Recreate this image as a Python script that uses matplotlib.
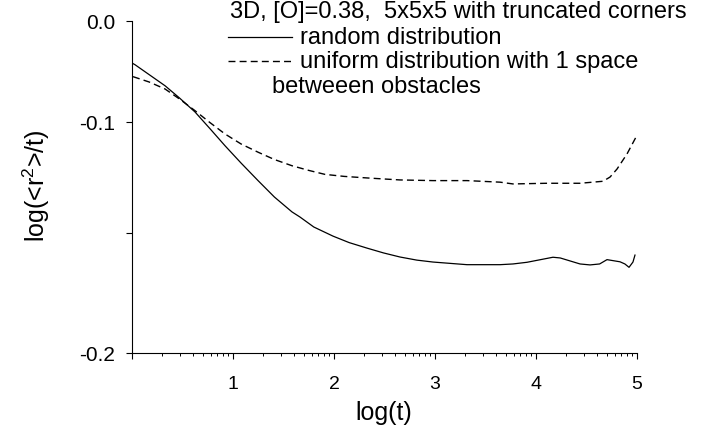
import numpy as np
import matplotlib
matplotlib.use("Agg")
import matplotlib.pyplot as plt
from matplotlib.lines import Line2D

plt.rcParams['font.family'] = ['Liberation Sans', 'DejaVu Sans']
plt.rcParams['mathtext.fontset'] = 'custom'
plt.rcParams['mathtext.rm'] = 'Liberation Sans'
plt.rcParams['mathtext.it'] = 'Liberation Sans:italic'

# log(t) and log(<r^2>/t)
x_random = [0.0, 0.03, 0.327, 0.47, 0.624, 0.77, 0.921, 1.08, 1.248, 1.41,
            1.584, 1.663, 1.80, 1.990, 2.15, 2.327, 2.49, 2.653, 2.82, 2.980,
            3.317, 3.644, 3.772, 3.911, 4.168, 4.24, 4.436, 4.535, 4.63, 4.703,
            4.832, 4.88, 4.921, 4.96, 4.98]
y_random = [-0.0416, -0.0433, -0.0641, -0.0762, -0.0901, -0.1029, -0.1107, -0.1185,
            -0.1264, -0.1338, -0.1405, -0.1428, -0.1473, -0.1513, -0.1540, -0.1563,
            -0.1583, -0.1600, -0.1613, -0.1621, -0.1632, -0.1632, -0.1629, -0.1622,
            -0.1601, -0.1604, -0.1629, -0.1633, -0.1629, -0.1611, -0.1620, -0.1629,
            -0.1643, -0.1621, -0.1592]

x_uniform = [0.01, 0.17, 0.327, 0.47, 0.624, 0.77, 0.921, 1.08, 1.248, 1.41,
             1.584, 1.75, 1.911, 2.1, 2.327, 2.653, 2.980, 3.317, 3.644, 3.772,
             4.109, 4.436, 4.663, 4.733, 4.802, 4.901, 4.990]
y_uniform = [-0.0551, -0.0604, -0.0673, -0.0772, -0.0888, -0.1002, -0.1054, -0.1099,
             -0.1136, -0.1169, -0.1197, -0.1218, -0.1236, -0.1245, -0.1252, -0.1261,
             -0.1264, -0.1264, -0.1271, -0.1279, -0.1276, -0.1276, -0.1267, -0.1248,
             -0.1212, -0.1144, -0.1068]

title = "3D, [O]=0.38,  5x5x5 with truncated corners"
label_random = "random distribution"
label_uniform = ["uniform distribution with 1 space", "betweeen obstacles"]

# the y axis of the original is not evenly spaced; map it piecewise
scale_vals = [-0.2, -0.15, -0.1, 0.0]
scale_pos = [0.0, 120.0, 231.0, 332.0]


def fwd(v):
    v = np.asarray(v, dtype=float)
    out = np.interp(v, scale_vals, scale_pos)
    lo = scale_pos[0] + (v - scale_vals[0]) * (scale_pos[1] - scale_pos[0]) / (scale_vals[1] - scale_vals[0])
    hi = scale_pos[-1] + (v - scale_vals[-1]) * (scale_pos[-1] - scale_pos[-2]) / (scale_vals[-1] - scale_vals[-2])
    return np.where(v < scale_vals[0], lo, np.where(v > scale_vals[-1], hi, out))


def inv(p):
    p = np.asarray(p, dtype=float)
    out = np.interp(p, scale_pos, scale_vals)
    lo = scale_vals[0] + (p - scale_pos[0]) * (scale_vals[1] - scale_vals[0]) / (scale_pos[1] - scale_pos[0])
    hi = scale_vals[-1] + (p - scale_pos[-1]) * (scale_vals[-1] - scale_vals[-2]) / (scale_pos[-1] - scale_pos[-2])
    return np.where(p < scale_pos[0], lo, np.where(p > scale_pos[-1], hi, out))


W, H = 712, 435
fig = plt.figure(figsize=(W / 100, H / 100), dpi=100)
ax = fig.add_axes([132 / W, 1 - 354 / H, 505 / W, 332 / H])
ax.set_yscale('function', functions=(fwd, inv))

ax.plot(x_random, y_random, color='black', lw=0.9)
ax.plot(x_uniform, y_uniform, color='black', lw=1.0, linestyle=(0, (5, 3)))

ax.set_xlim(0, 5)
ax.set_ylim(-0.2, 0.0)

ax.spines['top'].set_visible(False)
ax.spines['right'].set_visible(False)
for s in ('left', 'bottom'):
    ax.spines[s].set_linewidth(0.8)

ax.set_xticks([0, 1, 2, 3, 4, 5])
ax.set_xticklabels(['', '1', '2', '3', '4', '5'])
minors = [k + np.log10(m) for k in range(5) for m in range(2, 10)]
ax.set_xticks(minors, minor=True)
ax.set_yticks([0.0, -0.1, -0.2])
ax.set_yticklabels(['0.0', '-0.1', '-0.2'])
ax.set_yticks([-0.15], minor=True)

ax.tick_params(axis='x', which='major', direction='out', length=4, width=0.8,
               labelsize=14, pad=12)
ax.tick_params(axis='x', which='minor', direction='out', length=2.5, width=0.7)
ax.tick_params(axis='y', which='both', direction='out', length=4, width=0.8,
               labelsize=15, pad=8)

fig.text(384 / W, 1 - 413 / H, 'log(t)', ha='center', va='center', fontsize=18)
fig.text(36 / W, 1 - 186 / H, r'log(<r$^2$>/t)', ha='center', va='center',
         rotation=90, fontsize=18)

# annotation block in the upper right
fs = 17
fig.text(230 / W, 1 - 18 / H, title, ha='left', va='baseline', fontsize=fs)
fig.add_artist(Line2D([228 / W, 292 / W], [1 - 38 / H, 1 - 38 / H],
                      color='black', lw=0.9, transform=fig.transFigure))
fig.text(300 / W, 1 - 44 / H, label_random, ha='left', va='baseline', fontsize=fs)
fig.add_artist(Line2D([228 / W, 292 / W], [1 - 62 / H, 1 - 62 / H],
                      color='black', lw=1.0, linestyle=(0, (5, 3)),
                      transform=fig.transFigure))
fig.text(300 / W, 1 - 68 / H, label_uniform[0], ha='left', va='baseline', fontsize=fs)
fig.text(272 / W, 1 - 93 / H, label_uniform[1], ha='left', va='baseline', fontsize=fs)

fig.savefig('out.png', dpi=100)
